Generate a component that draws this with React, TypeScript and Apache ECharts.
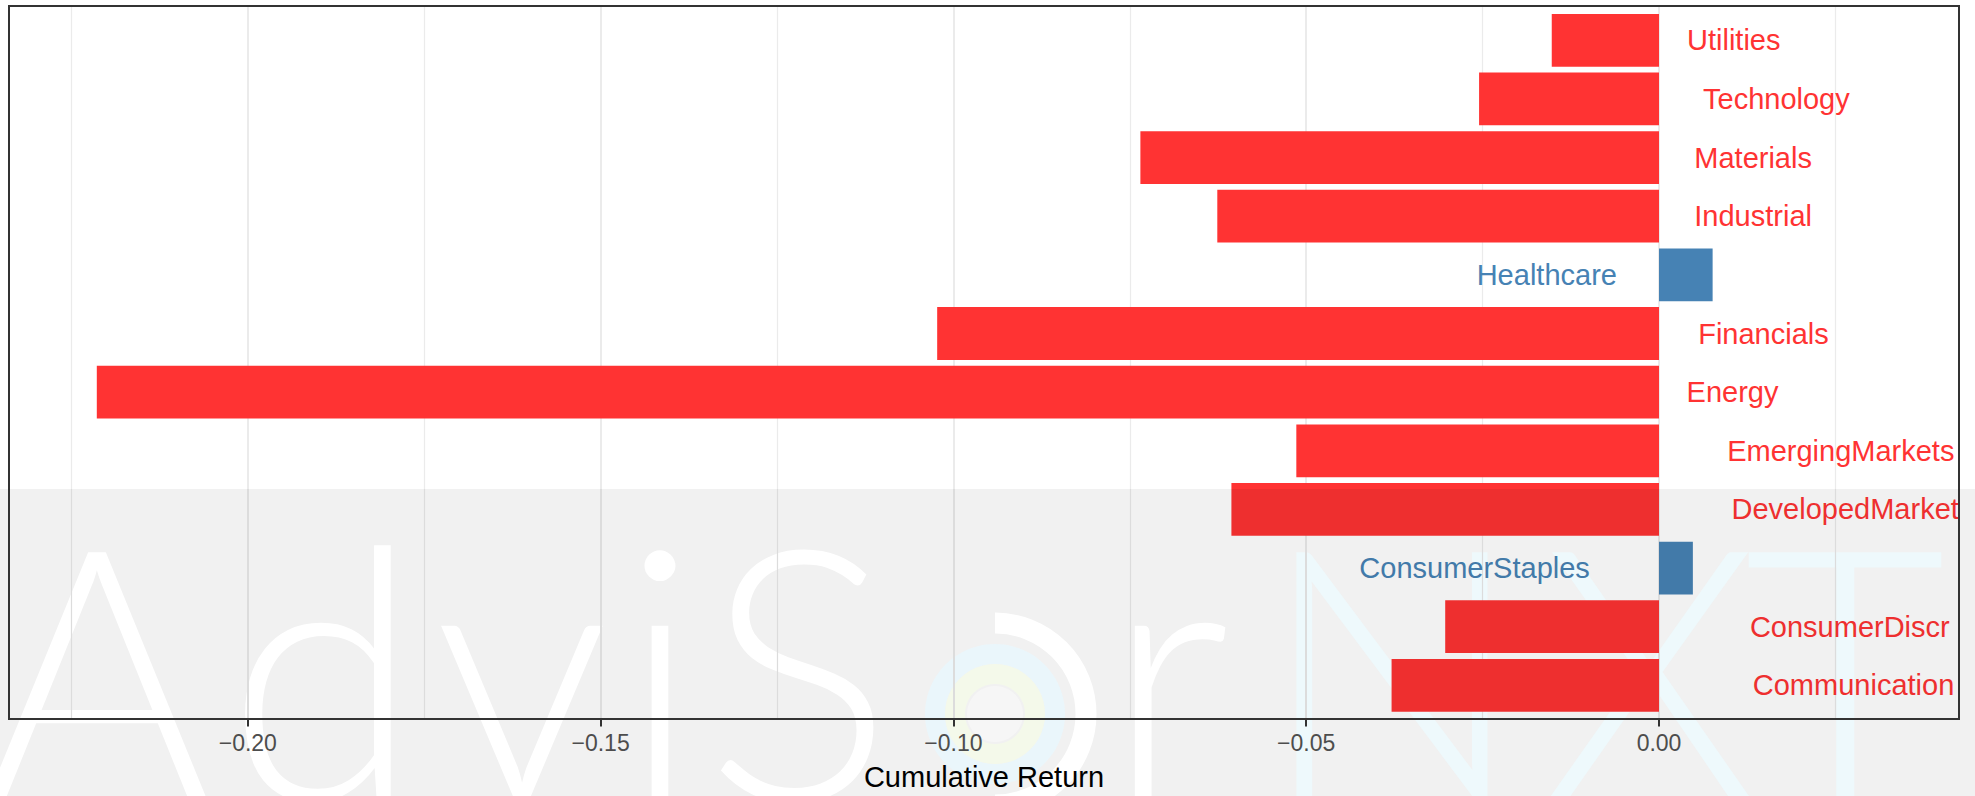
import React, { useEffect, useRef } from "react";
import * as echarts from "echarts";

// ---- data (bottom to top, as in the flipped ggplot bar chart) ----
const categories = [
  "CommunicationServices",
  "ConsumerDiscretionary",
  "ConsumerStaples",
  "DevelopedMarkets",
  "EmergingMarkets",
  "Energy",
  "Financials",
  "Healthcare",
  "Industrial",
  "Materials",
  "Technology",
  "Utilities",
];
const cumulativeReturn = [
  -0.0379, -0.0303, 0.0048, -0.0606, -0.0514, -0.2214, -0.1023, 0.0076,
  -0.0626, -0.0735, -0.0255, -0.0152,
];
const xAxisMin = -0.25;
const xAxisMax = 0.05;
const xAxisInterval = 0.05;
const xAxisTitle = "Cumulative Return";
const watermarkWord = ["A", "d", "v", "i", "S", "r", "N", "X", "T"];

const measureCanvas = document.createElement("canvas");
function textWidth(s: string, font: string): number {
  const ctx = measureCanvas.getContext("2d");
  if (!ctx) return s.length * 15;
  ctx.font = font;
  return ctx.measureText(s).width;
}

// keep the characters that are mostly inside the available width (panel clip)
function clipText(s: string, font: string, avail: number): string {
  if (textWidth(s, font) <= avail) return s;
  let out = "";
  for (let i = 0; i < s.length; i++) {
    const before = textWidth(s.slice(0, i), font);
    const after = textWidth(s.slice(0, i + 1), font);
    if (before + 0.75 * (after - before) > avail) break;
    out = s.slice(0, i + 1);
  }
  return out;
}

export default function App() {
  const ref = useRef<HTMLDivElement>(null);

  useEffect(() => {
    const el = ref.current;
    if (!el) return;
    const chart = echarts.init(el, null, { renderer: "svg" });

    const W = 1975;
    const H = 796;
    // layout of the ggplot panel, in pixels
    const panel = { left: 9, top: 6, width: 1950, height: 713 };
    const panelRight = panel.left + panel.width - 1;
    const zeroX = 1659;
    const pxPerUnit = 7056;
    const bandTop = 489;
    const catBand = 58.64;
    const firstCenter = 40.3;

    const panelMin = (panel.left - zeroX) / pxPerUnit;
    const panelMax = (panel.left + panel.width - zeroX) / pxPerUnit;
    const gridALeft = zeroX + xAxisMin * pxPerUnit;
    const gridAWidth = (xAxisMax - xAxisMin) * pxPerUnit;
    const gridBTop = firstCenter - catBand / 2;
    const gridBHeight = catBand * categories.length;

    const split = (top: string, bottom: string) =>
      new echarts.graphic.LinearGradient(
        0,
        0,
        0,
        H,
        [
          { offset: 0, color: top },
          { offset: bandTop / H, color: top },
          { offset: bandTop / H, color: bottom },
          { offset: 1, color: bottom },
        ],
        true
      );

    const redFill = split("#ff3333", "#ee2f2f");
    const blueFill = split("#4682b4", "#427aa9");
    const gridFill = split("#ebebeb", "#dcdcdc");

    const labelFont = 29;
    const labelFamily = "Liberation Sans";
    const cssFont = `${labelFont}px "${labelFamily}"`;

    const letterX = [97, 323, 522, 660, 799, 1168, 1392, 1650, 1845];
    const letterColor = ["#ffffff", "#ffffff", "#ffffff", "#ffffff", "#ffffff", "#ffffff", "#eef9fc", "#eef9fc", "#eef9fc"];
    const letters = watermarkWord.map((ch, i) => ({
      type: "text",
      z: -5,
      silent: true,
      x: letterX[i],
      y: 665,
      style: {
        text: ch,
        fill: letterColor[i],
        fontSize: 350,
        fontFamily: "Lato",
        fontWeight: 300,
        align: "center",
        verticalAlign: "middle",
        textAlign: "center",
        textVerticalAlign: "middle",
      },
    }));

    const logoC = { cx: 995, cy: 714 };

    chart.setOption({
      animation: false,
      backgroundColor: "#ffffff",
      grid: [
        {
          left: gridALeft,
          top: panel.top,
          width: gridAWidth,
          height: panel.height,
          outerBoundsMode: "none",
          containLabel: false,
        },
        {
          left: panel.left,
          top: gridBTop,
          width: panel.width,
          height: gridBHeight,
          outerBoundsMode: "none",
          containLabel: false,
        },
      ],
      xAxis: [
        {
          gridIndex: 0,
          type: "value",
          min: xAxisMin,
          max: xAxisMax,
          interval: xAxisInterval,
          position: "bottom",
          axisLine: { show: false },
          axisTick: {
            show: true,
            length: 7.5,
            lineStyle: { color: "#333333", width: 2 },
          },
          minorTick: { show: false, splitNumber: 2 },
          axisLabel: {
            show: true,
            margin: 12,
            color: "#4d4d4d",
            fontSize: 23,
            fontFamily: labelFamily,
            formatter: (v: number) =>
              (v < 0 ? "\u2212" : "") + Math.abs(v).toFixed(2),
          },
          splitLine: { show: true, lineStyle: { color: gridFill, width: 2 } },
          minorSplitLine: {
            show: true,
            lineStyle: { color: gridFill, width: 1.2 },
          },
        },
        {
          gridIndex: 1,
          type: "value",
          min: panelMin,
          max: panelMax,
          axisLine: { show: false },
          axisTick: { show: false },
          axisLabel: { show: false },
          splitLine: { show: false },
          name: xAxisTitle,
          nameLocation: "middle",
          nameGap: 62,
          nameTextStyle: {
            color: "#000000",
            fontSize: 29,
            fontFamily: labelFamily,
            verticalAlign: "middle",
          },
        },
      ],
      yAxis: [
        { gridIndex: 0, type: "value", min: 0, max: 1, show: false },
        {
          gridIndex: 1,
          type: "category",
          data: categories,
          show: false,
        },
      ],
      series: [
        {
          type: "bar",
          xAxisIndex: 1,
          yAxisIndex: 1,
          barCategoryGap: "10%",
          z: 2,
          data: cumulativeReturn.map((v) => ({
            value: v,
            itemStyle: { color: v < 0 ? redFill : blueFill },
          })),
        },
        {
          type: "custom",
          xAxisIndex: 1,
          yAxisIndex: 1,
          clip: true,
          z: 5,
          silent: true,
          encode: { x: 0, y: 1 },
          data: cumulativeReturn.map((v, i) => [v, i]),
          renderItem: (params: any, api: any) => {
            const v = api.value(0) as number;
            const idx = api.value(1) as number;
            const pt = api.coord([0, idx]);
            const name = categories[idx];
            const w = textWidth(name, cssFont);
            const neg = v < 0;
            const inBand = pt[1] > bandTop;
            const fill = neg
              ? inBand
                ? "#ee2f2f"
                : "#ff3333"
              : inBand
              ? "#427aa9"
              : "#4682b4";
            const x = neg ? pt[0] + 0.3 * w : pt[0] - 0.3 * w;
            const shown = neg ? clipText(name, cssFont, panelRight - x) : name;
            return {
              type: "text",
              x,
              y: pt[1],
              style: {
                text: shown,
                fill,
                fontSize: labelFont,
                fontFamily: labelFamily,
                align: neg ? "left" : "right",
                verticalAlign: "middle",
                textAlign: neg ? "left" : "right",
                textVerticalAlign: "middle",
              },
            };
          },
        },
      ],
      graphic: {
        elements: [
          {
            type: "rect",
            z: -10,
            silent: true,
            shape: { x: 0, y: bandTop, width: W, height: H - bandTop },
            style: { fill: "#f1f1f1" },
          },
          ...letters,
          {
            type: "ring",
            z: -5,
            silent: true,
            shape: { cx: logoC.cx, cy: logoC.cy, r: 70, r0: 50 },
            style: { fill: "#eaf6fb" },
          },
          {
            type: "ring",
            z: -5,
            silent: true,
            shape: { cx: logoC.cx, cy: logoC.cy, r: 50, r0: 30 },
            style: { fill: "#f4f9ea" },
          },
          {
            type: "circle",
            z: -5,
            silent: true,
            shape: { cx: logoC.cx, cy: logoC.cy, r: 28 },
            style: { fill: "#f6f6f6" },
          },
          {
            type: "arc",
            z: -5,
            silent: true,
            shape: {
              cx: logoC.cx,
              cy: logoC.cy,
              r: 91,
              startAngle: -Math.PI / 2,
              endAngle: Math.PI / 2,
              clockwise: true,
            },
            style: { stroke: "#ffffff", lineWidth: 21, fill: "none" },
          },
          {
            type: "rect",
            z: 100,
            silent: true,
            shape: {
              x: panel.left,
              y: panel.top,
              width: panel.width,
              height: panel.height,
            },
            style: { fill: "none", stroke: "#333333", lineWidth: 2 },
          },
        ],
      },
    });

    return () => {
      chart.dispose();
    };
  }, []);

  return (
    <div
      ref={ref}
      style={{
        position: "absolute",
        left: 0,
        top: 0,
        width: 1975,
        height: 796,
      }}
    />
  );
}
